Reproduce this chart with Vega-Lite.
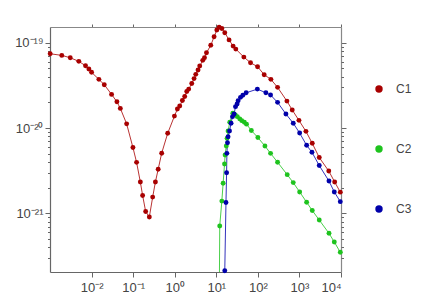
{
  "$schema": "https://vega.github.io/schema/vega-lite/v6.json",
  "autosize": "none",
  "width": 291,
  "height": 245,
  "padding": {"left": 50, "top": 27, "right": 105, "bottom": 34},
  "background": "white",
  "config": {
    "view": {"stroke": null},
    "axis": {"grid": false, "title": null, "labelFont": "Liberation Sans", "labelFontSize": 13, "labelColor": "#444444", "tickColor": "#666666", "domainColor": "#666666", "domainWidth": 1.2, "tickWidth": 1},
    "legend": {"orient": "none", "legendX": 323, "legendY": 56, "title": null, "symbolType": "circle", "symbolSize": 55, "labelFont": "Liberation Sans", "labelFontSize": 12, "labelColor": "#444444", "rowPadding": 48, "labelOffset": 11, "padding": 0, "symbolStrokeWidth": 0, "symbolOpacity": 1}
  },
  "data": {"values": [
    {"s":"C1","x":0.00101,"y":7.43e-20},{"s":"C1","x":0.00192,"y":7.11e-20},{"s":"C1","x":0.00307,"y":6.67e-20},{"s":"C1","x":0.00494,"y":6.05e-20},{"s":"C1","x":0.00716,"y":5.37e-20},{"s":"C1","x":0.00861,"y":4.92e-20},{"s":"C1","x":0.0100,"y":4.50e-20},{"s":"C1","x":0.0150,"y":3.72e-20},{"s":"C1","x":0.0202,"y":3.22e-20},{"s":"C1","x":0.0303,"y":2.48e-20},{"s":"C1","x":0.0407,"y":2.03e-20},{"s":"C1","x":0.0492,"y":1.70e-20},{"s":"C1","x":0.0697,"y":1.12e-20},{"s":"C1","x":0.0989,"y":5.90e-21},{"s":"C1","x":0.121,"y":3.96e-21},{"s":"C1","x":0.149,"y":2.33e-21},{"s":"C1","x":0.169,"y":1.62e-21},{"s":"C1","x":0.200,"y":1.05e-21},{"s":"C1","x":0.245,"y":9.05e-22},{"s":"C1","x":0.295,"y":1.55e-21},{"s":"C1","x":0.343,"y":2.33e-21},{"s":"C1","x":0.400,"y":3.28e-21},{"s":"C1","x":0.486,"y":5.07e-21},{"s":"C1","x":0.678,"y":8.67e-21},{"s":"C1","x":0.984,"y":1.38e-20},{"s":"C1","x":1.16,"y":1.67e-20},{"s":"C1","x":1.32,"y":1.81e-20},{"s":"C1","x":1.53,"y":2.10e-20},{"s":"C1","x":1.74,"y":2.34e-20},{"s":"C1","x":1.95,"y":2.68e-20},{"s":"C1","x":2.17,"y":2.86e-20},{"s":"C1","x":2.57,"y":3.33e-20},{"s":"C1","x":2.92,"y":3.80e-20},{"s":"C1","x":3.21,"y":4.26e-20},{"s":"C1","x":3.64,"y":4.79e-20},{"s":"C1","x":4.00,"y":5.33e-20},{"s":"C1","x":4.73,"y":6.22e-20},{"s":"C1","x":5.20,"y":6.67e-20},{"s":"C1","x":5.81,"y":7.64e-20},{"s":"C1","x":7.37,"y":9.33e-20},{"s":"C1","x":8.85,"y":1.175e-19},{"s":"C1","x":10.3,"y":1.41e-19},{"s":"C1","x":11.7,"y":1.52e-19},{"s":"C1","x":13.6,"y":1.47e-19},{"s":"C1","x":16.0,"y":1.31e-19},{"s":"C1","x":20.3,"y":1.08e-19},{"s":"C1","x":25.4,"y":9.14e-20},{"s":"C1","x":29.5,"y":8.43e-20},{"s":"C1","x":46.0,"y":6.79e-20},{"s":"C1","x":66.7,"y":5.83e-20},{"s":"C1","x":98.4,"y":5.24e-20},{"s":"C1","x":142,"y":4.22e-20},{"s":"C1","x":206,"y":3.72e-20},{"s":"C1","x":298,"y":3.00e-20},{"s":"C1","x":500,"y":2.07e-20},{"s":"C1","x":671,"y":1.63e-20},{"s":"C1","x":973,"y":1.23e-20},{"s":"C1","x":1435,"y":9.14e-21},{"s":"C1","x":2034,"y":6.62e-21},{"s":"C1","x":2999,"y":4.51e-21},{"s":"C1","x":5079,"y":3.13e-21},{"s":"C1","x":7047,"y":2.33e-21},{"s":"C1","x":9618,"y":1.77e-21},
    {"s":"C2","x":11.9,"y":1.8e-22},{"s":"C2","x":12.1,"y":7.10e-22},{"s":"C2","x":13.6,"y":1.39e-21},{"s":"C2","x":14.6,"y":2.25e-21},{"s":"C2","x":15.8,"y":3.78e-21},{"s":"C2","x":16.3,"y":4.82e-21},{"s":"C2","x":17.4,"y":6.15e-21},{"s":"C2","x":18.2,"y":7.57e-21},{"s":"C2","x":19.2,"y":9.23e-21},{"s":"C2","x":21.1,"y":1.17e-20},{"s":"C2","x":25.0,"y":1.49e-20},{"s":"C2","x":28.7,"y":1.42e-20},{"s":"C2","x":32.1,"y":1.36e-20},{"s":"C2","x":36.8,"y":1.28e-20},{"s":"C2","x":41.1,"y":1.22e-20},{"s":"C2","x":47.3,"y":1.17e-20},{"s":"C2","x":53.4,"y":1.11e-20},{"s":"C2","x":69.7,"y":9.36e-21},{"s":"C2","x":100,"y":7.74e-21},{"s":"C2","x":148,"y":6.15e-21},{"s":"C2","x":202,"y":5.05e-21},{"s":"C2","x":298,"y":3.97e-21},{"s":"C2","x":508,"y":2.84e-21},{"s":"C2","x":710,"y":2.29e-21},{"s":"C2","x":1012,"y":1.78e-21},{"s":"C2","x":1489,"y":1.35e-21},{"s":"C2","x":2034,"y":1.08e-21},{"s":"C2","x":2999,"y":8.34e-22},{"s":"C2","x":5140,"y":5.83e-22},{"s":"C2","x":6902,"y":4.61e-22},{"s":"C2","x":9618,"y":3.49e-22},
    {"s":"C3","x":16.0,"y":2.12e-22},{"s":"C3","x":17.1,"y":1.34e-21},{"s":"C3","x":17.7,"y":2.99e-21},{"s":"C3","x":18.0,"y":5.05e-21},{"s":"C3","x":18.6,"y":6.73e-21},{"s":"C3","x":19.2,"y":7.91e-21},{"s":"C3","x":20.8,"y":9.23e-21},{"s":"C3","x":22.7,"y":1.14e-20},{"s":"C3","x":24.5,"y":1.36e-20},{"s":"C3","x":26.8,"y":1.46e-20},{"s":"C3","x":29.0,"y":1.78e-20},{"s":"C3","x":31.7,"y":1.91e-20},{"s":"C3","x":33.5,"y":2.09e-20},{"s":"C3","x":38.3,"y":2.29e-20},{"s":"C3","x":43.5,"y":2.42e-20},{"s":"C3","x":52.3,"y":2.59e-20},{"s":"C3","x":97.3,"y":2.86e-20},{"s":"C3","x":156,"y":2.59e-20},{"s":"C3","x":202,"y":2.44e-20},{"s":"C3","x":298,"y":2.00e-20},{"s":"C3","x":473,"y":1.46e-20},{"s":"C3","x":710,"y":1.14e-20},{"s":"C3","x":1012,"y":8.73e-21},{"s":"C3","x":1489,"y":6.27e-21},{"s":"C3","x":2000,"y":5.20e-21},{"s":"C3","x":2999,"y":3.63e-21},{"s":"C3","x":5140,"y":2.39e-21},{"s":"C3","x":6902,"y":1.78e-21},{"s":"C3","x":9618,"y":1.37e-21}
  ]},
  "resolve": {"axis": {"x": "independent", "y": "independent"}},
  "layer": [
    {
      "mark": {"type": "line", "strokeWidth": 1, "opacity": 0.8, "clip": true},
      "encoding": {
        "x": {"field": "x", "type": "quantitative", "scale": {"type": "log", "domain": [0.001, 10000], "nice": false},
              "axis": {"orient": "bottom", "values": [0.01, 0.1, 1, 10, 100, 1000, 10000], "tickSize": 5, "labelPadding": 4,
                       "labelExpr": "'10' + replace(replace(replace(replace(replace(replace(replace(replace(replace(replace(replace('' + round(log(datum.value)/LN10), '-', '⁻'), '0', '⁰'), '1', '¹'), '2', '²'), '3', '³'), '4', '⁴'), '5', '⁵'), '6', '⁶'), '7', '⁷'), '8', '⁸'), '9', '⁹')"}},
        "y": {"field": "y", "type": "quantitative", "scale": {"type": "log", "domain": [2.05e-22, 1.53e-19], "nice": false},
              "axis": {"orient": "left", "values": [1e-21, 1e-20, 1e-19], "tickSize": 5, "labelPadding": 2,
                       "labelExpr": "'10' + replace(replace(replace(replace(replace(replace(replace(replace(replace(replace(replace('' + round(log(datum.value)/LN10), '-', '⁻'), '0', '⁰'), '1', '¹'), '2', '²'), '3', '³'), '4', '⁴'), '5', '⁵'), '6', '⁶'), '7', '⁷'), '8', '⁸'), '9', '⁹')"}},
        "color": {"field": "s", "type": "nominal", "scale": {"domain": ["C1", "C2", "C3"], "range": ["#a80000", "#1ec31e", "#0000aa"]}}
      }
    },
    {
      "transform": [{"filter": "datum.y >= 2.05e-22"}],
      "mark": {"type": "circle", "size": 24, "opacity": 1},
      "encoding": {
        "x": {"field": "x", "type": "quantitative", "scale": {"type": "log", "domain": [0.001, 10000], "nice": false},
              "axis": {"orient": "top", "values": [0.01, 0.1, 1, 10, 100, 1000, 10000], "tickSize": 3, "labels": false, "domainColor": "#888888"}},
        "y": {"field": "y", "type": "quantitative", "scale": {"type": "log", "domain": [2.05e-22, 1.53e-19], "nice": false},
              "axis": {"orient": "right", "values": [1e-21, 1e-20, 1e-19], "tickSize": 5, "labels": false, "domainColor": "#888888"}},
        "color": {"field": "s", "type": "nominal", "scale": {"domain": ["C1", "C2", "C3"], "range": ["#a80000", "#1ec31e", "#0000aa"]}}
      }
    },
    {
      "mark": {"type": "circle", "opacity": 0},
      "encoding": {
        "x": {"field": "x", "type": "quantitative", "scale": {"type": "log", "domain": [0.001, 10000], "nice": false}, "axis": null},
        "y": {"field": "y", "type": "quantitative", "scale": {"type": "log", "domain": [2.05e-22, 1.53e-19], "nice": false},
              "axis": {"orient": "left", "values": [3e-22, 4e-22, 5e-22, 6e-22, 7e-22, 8e-22, 9e-22, 2e-21, 3e-21, 4e-21, 5e-21, 6e-21, 7e-21, 8e-21, 9e-21, 2e-20, 3e-20, 4e-20, 5e-20, 6e-20, 7e-20, 8e-20, 9e-20], "tickSize": 2.5, "labels": false, "domain": false}}
      }
    },
    {
      "mark": {"type": "circle", "opacity": 0},
      "encoding": {
        "x": {"field": "x", "type": "quantitative", "scale": {"type": "log", "domain": [0.001, 10000], "nice": false}, "axis": null},
        "y": {"field": "y", "type": "quantitative", "scale": {"type": "log", "domain": [2.05e-22, 1.53e-19], "nice": false},
              "axis": {"orient": "right", "values": [3e-22, 4e-22, 5e-22, 6e-22, 7e-22, 8e-22, 9e-22, 2e-21, 3e-21, 4e-21, 5e-21, 6e-21, 7e-21, 8e-21, 9e-21, 2e-20, 3e-20, 4e-20, 5e-20, 6e-20, 7e-20, 8e-20, 9e-20], "tickSize": 2.5, "labels": false, "domain": false}}
      }
    }
  ]
}
